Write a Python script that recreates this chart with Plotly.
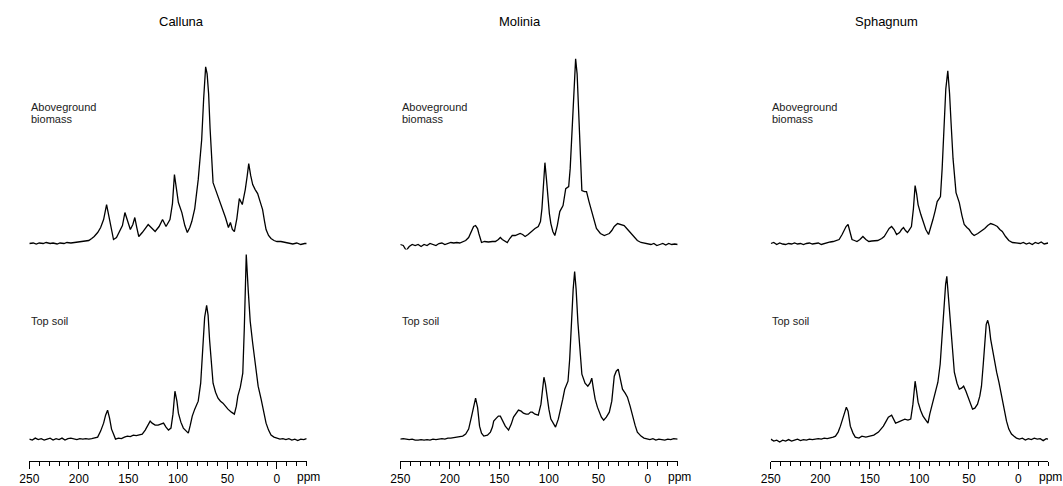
import plotly.graph_objects as go

# ---------------- data (ppm, relative intensity) ----------------
columns = ["Calluna", "Molinia", "Sphagnum"]
row_labels = [["Aboveground", "biomass"], ["Top soil"]]
tick_values = [250, 200, 150, 100, 50, 0]
tick_text = ["250", "200", "150", "100", "50", "0"]

calluna_above = [
    (250, 0), (246, 0.5), (243, -0.5), (240, 0.5), (236, 0), (233, 1), (229, 0), (226, 0.5),
    (222, -0.5), (219, 0.5), (215, 0), (212, 1), (208, 0.5), (204, 1), (200, 1), (197, 1.5),
    (193, 2), (190, 3), (187, 5), (184.5, 7), (181, 11), (178, 16), (175, 24), (172, 39),
    (169, 24), (165, 4), (162, 6), (159.5, 11), (156, 18), (153.5, 31), (151, 22), (148, 14),
    (145.5, 19), (143.5, 26), (141.5, 16), (139.5, 7), (136, 11), (133, 15), (130, 19), (127, 16),
    (123, 12), (119, 17), (115.5, 24), (112, 17), (108, 24), (105.5, 40), (103.5, 69), (101.5, 55),
    (99.5, 41), (96, 31), (93, 18), (90.5, 11), (88, 16), (86, 22), (83, 35), (79.5, 64),
    (76, 104), (74, 145), (72, 177), (70.5, 170), (69, 150), (67.5, 115), (66, 84), (64.5, 61),
    (62, 54), (59.5, 47), (57, 40), (54.5, 34), (52, 26), (49, 16), (47, 21), (45, 14),
    (43, 12), (40.5, 25), (38, 45), (35, 39), (32, 54), (30, 68), (28.5, 80), (26.5, 68),
    (24.5, 59), (22, 54), (19.5, 50), (17, 42), (14.5, 34), (12.5, 22), (11, 14), (8.5, 8),
    (6, 5), (3, 3), (0, 2), (-4, 2), (-8, 1), (-12, 0), (-16, -0.5), (-20, 0.5),
    (-24, -1), (-28, 0), (-30, 0),
]

calluna_soil = [
    (250, 0), (247, -1), (244, 1), (241, -0.5), (238, 0.5), (235, -1), (232, 0), (229, 1),
    (226, -1), (223, 0.5), (220, -0.5), (217, 1), (214, -1), (211, 0.5), (208, 1), (205, 0),
    (202, -0.5), (199, 0.5), (196, 0), (193, 0.5), (190, 0), (187, 0.5), (184, 1), (181, 2),
    (178, 8), (175, 16), (173, 24), (171, 29), (169, 21), (167, 10), (165, 5), (163, 0),
    (160, 1), (157, 0.5), (154, 2), (151, 3), (148, 2.5), (145, 4), (142, 3.5), (139, 4),
    (136, 5), (133, 9), (130, 15), (128, 18), (126, 16), (123, 14), (120, 14), (117, 15),
    (114.5, 16), (112, 12), (109.5, 9), (107, 11), (105, 25), (103, 48), (101, 38), (99.5, 26),
    (97, 17), (94.5, 11), (92, 8), (89.5, 6), (87.5, 14), (85.5, 23), (83, 30), (79.5, 38),
    (77, 56), (74.5, 99), (73, 122), (71, 134), (69.5, 124), (68, 99), (66, 72), (64.5, 56),
    (62, 47), (59.5, 41), (57, 38), (54.5, 36), (52, 33), (49.5, 30), (46, 27), (43, 25),
    (41, 33), (39.5, 43), (37, 52), (34.5, 66), (33, 110), (31, 185), (29, 149), (27, 118),
    (24.5, 96), (22, 75), (19, 53), (16, 40), (13.5, 26), (11, 16), (8.5, 9), (6, 4),
    (3, 2), (0, 1), (-3, 0), (-6, 0.5), (-9, -0.5), (-12, 0.5), (-15, -1), (-18, 0),
    (-21, -1.5), (-24, 0), (-27, -0.5), (-30, 0.5),
]

molinia_above = [
    (250, -1), (247, -2), (244, -7), (241, -3), (238, -1), (235, -2), (232, -1), (229, -3),
    (226, -1), (223, -2), (220, 0), (217, -1), (214, -2), (211, 0), (208, 0.5), (205, -1),
    (202, 0), (199, 1), (196, 0.5), (193, 1), (190, 0.5), (187, 2), (184, 3), (181, 6),
    (178, 13), (176, 17), (174, 18), (172, 15), (170.7, 10), (169, 4), (168, 1), (165, 2),
    (161, 1.5), (157, 2), (154, 2), (151, 4), (149, 6), (147, 4), (144, 2), (142, 1),
    (139.5, 5), (137, 8), (134, 8), (131, 9), (129, 10), (126.5, 9), (124, 7), (121, 9),
    (117, 13), (114, 15), (110.7, 17), (108.5, 22), (107, 35), (105.5, 60), (104, 81), (102.5, 65),
    (101, 45), (99.5, 30), (98, 20), (96, 12), (94, 8), (91.5, 18), (89, 32), (87, 36),
    (85.7, 38), (83, 55), (81.5, 56), (80, 57), (78.5, 75), (77, 102), (75, 150), (73, 185),
    (71.5, 170), (70, 135), (68.5, 90), (66.7, 53), (64, 52), (62, 52), (59.5, 42), (57, 32),
    (54.5, 22), (52, 15), (48, 10), (44, 8), (41.5, 9), (39, 10), (36.5, 13), (34, 17),
    (30.7, 20), (27, 19), (24, 18), (20.5, 14), (17, 10), (14, 6), (10.7, 3), (7, 1),
    (4, 0.5), (0.7, 0), (-3, -1), (-6, 0), (-9, -2), (-12, -1), (-15, 0), (-18, -1.5),
    (-21, 0), (-24, -1), (-27, -0.5), (-30, -1),
]

molinia_soil = [
    (250, 0), (247, 0.5), (244, 0), (241, -0.5), (238, 0), (235, -1), (232, -1), (229, -0.5),
    (226, -1), (223, -0.5), (220, -1), (217, 0), (214, -0.5), (211, 0), (208, 0.5), (205, 0),
    (202, 1), (199, 1), (196, 1.5), (193, 1.5), (190.7, 2), (187, 3), (184, 5), (181, 10),
    (178, 23), (176, 34), (174, 41), (172, 32), (170, 13), (168, 6), (165.7, 3), (162, 4),
    (159, 7), (157, 12), (155.7, 18), (153, 21), (151, 23), (149, 23), (147, 19), (144, 13),
    (140.7, 9), (138, 15), (135.7, 22), (133, 26), (130.7, 29), (128, 28), (125.7, 26), (123, 25),
    (120.7, 25), (118.5, 27), (116.7, 27), (114, 25), (110.7, 24), (108, 35), (105, 62), (103.5, 55),
    (101.7, 40), (100, 30), (98, 20), (95.5, 15), (93.3, 12), (90.5, 20), (88, 30), (86, 40),
    (84, 50), (82, 55), (80.7, 58), (79, 80), (77.3, 117), (75.5, 150), (74, 168), (72.5, 150),
    (70.7, 117), (68.5, 85), (66.7, 65), (63.5, 56), (60.7, 53), (58.5, 56), (56.7, 61), (55, 50),
    (53.3, 40), (51, 32), (49, 27), (47, 22), (44.7, 19), (42, 22), (39, 27), (36.5, 38),
    (34, 63), (32, 68), (30, 70), (28, 60), (25.7, 50), (23, 46), (20.7, 42), (18, 33),
    (15.7, 23), (13, 14), (10.7, 7), (7, 3), (4, 1), (1, 0), (-2, -0.5), (-5, 0.5),
    (-8, -1), (-11, 0), (-14, -0.5), (-17, -1), (-20, 0), (-23, -0.5), (-26, 0.5), (-30, 0),
]

sphagnum_above = [
    (250, 0), (247, 1), (244, -1), (241, 0.5), (238, -0.5), (235, -1), (232, 0), (229, -0.5),
    (226, 0.5), (223, -0.5), (220, 0), (217, -1), (214, 0), (211, 0.5), (208, -0.5), (205, 0),
    (202, 0.5), (199, -1), (196, 0), (193, 1), (190, 1.5), (187, 2), (184, 3), (181, 4),
    (178, 9), (176, 14), (174, 17), (172, 19), (170, 12), (168, 4), (165.5, 3), (163, 2),
    (160, 4), (157, 7), (154, 4), (151, 2), (148, 2.5), (145, 3), (142, 3), (138, 5),
    (135.5, 7), (133, 11), (130.5, 15), (128, 17), (125.5, 14), (123, 9), (120, 11), (118, 14),
    (116, 16), (114, 13), (112, 11), (110, 14), (108, 17), (106, 35), (104.3, 58), (102.8, 50),
    (101.3, 39), (98.5, 29), (96.3, 22), (93.5, 14), (90.7, 9), (88.5, 16), (86.3, 24), (84, 33),
    (82, 42), (80, 45), (78.7, 47), (77, 75), (75.3, 121), (73.3, 155), (71.3, 173), (69.5, 150),
    (68, 121), (66, 85), (63, 51), (59.7, 41), (57, 28), (54.7, 19), (52, 16), (49.7, 14),
    (47, 10), (44.7, 8), (41, 10), (38, 12), (34, 15), (31, 18), (28, 20), (25, 19),
    (21.3, 17), (18.8, 14), (16.3, 12), (13, 7), (9.7, 3), (6, 1), (2, 0.5), (-2, 0),
    (-5, 1), (-8, -0.5), (-11, 0.5), (-14, -1), (-17, 1), (-20, 0), (-23, 1.5), (-26, -0.5),
    (-30, 0.5),
]

sphagnum_soil = [
    (250, 0), (247, -2), (244, -1), (241, -3), (238, -1), (235, -2), (232, -0.5), (229, -2),
    (226, -1), (223, 0), (220, -1.5), (217, -0.5), (214, -1), (211, 0), (208, -0.5), (205, 0),
    (202, 0.5), (199, 0), (196, 1), (193, 0.5), (190, 1), (187, 2), (184.7, 3), (182, 7),
    (179.7, 13), (177, 22), (175.5, 28), (173.7, 32), (172, 28), (169.7, 13), (167, 6), (164.7, 2),
    (161, 1), (158, 3), (154, 2), (150, 3), (146, 4), (141.3, 7), (138.5, 10), (136.3, 13),
    (133.5, 18), (131.3, 22), (128, 24), (126, 20), (124, 16), (121.5, 17), (119.7, 18), (117, 19),
    (114.7, 20), (111.5, 19), (108.7, 20), (106.5, 35), (104.3, 58), (102.8, 48), (101.3, 37), (98.8, 29),
    (96.3, 23), (93.5, 19), (91.3, 16), (89.5, 25), (87.3, 33), (84.5, 43), (81.3, 57), (79, 75),
    (77.3, 100), (75, 135), (73.5, 155), (72.3, 163), (70.5, 140), (68.7, 110), (66.5, 85), (64.7, 67),
    (62, 56), (59.7, 50), (57.5, 51), (55.3, 53), (53, 48), (51.3, 43), (48.5, 35), (46.3, 30),
    (44, 31), (41.3, 35), (39, 43), (37.3, 53), (35.5, 75), (34, 100), (32.5, 115), (31, 119),
    (29.5, 113), (28, 100), (26, 88), (24, 77), (22, 67), (19.7, 57), (17, 43), (14.7, 30),
    (12, 18), (9.7, 10), (7, 5), (4.7, 3), (2, 1), (-1, 0), (-4, 1), (-7, -1),
    (-10, 0.5), (-13, -0.5), (-16, 1), (-19, 0), (-22, 0.5), (-25, -1.5), (-28, 0.5), (-30, 0),
]

spectra = {
    "Calluna": (calluna_above, calluna_soil),
    "Molinia": (molinia_above, molinia_soil),
    "Sphagnum": (sphagnum_above, sphagnum_soil),
}

# ---------------- layout geometry (pixels) ----------------
W, H = 1063, 486
panel_left = [19.5, 394.0, 768.0]   # x pixel of 250 ppm in each column
panel_width = 280.0                 # 250 .. -30 ppm
X_RANGE = [250, -30]
title_x_px = [173, 515, 885]

top_dom_px = (30, 250)      # top row: y pixel top/bottom
bot_dom_px = (250, 462)     # bottom row
top_base_px = 244
bot_base_px = 440


def py(p):
    return (H - p) / H


fig = go.Figure()
layout = dict(
    width=W, height=H, margin=dict(l=0, r=0, t=0, b=0),
    paper_bgcolor="white", plot_bgcolor="white", showlegend=False,
    font=dict(family="Liberation Sans, Arial, sans-serif", color="black"),
)
annotations = []

for c, name in enumerate(columns):
    x0 = panel_left[c] / W
    x1 = (panel_left[c] + panel_width) / W
    for r in range(2):
        idx = c * 2 + r + 1
        sfx = "" if idx == 1 else str(idx)
        data = spectra[name][r]
        xs = [p[0] for p in data]
        ys = [p[1] for p in data]
        fig.add_trace(go.Scatter(
            x=xs, y=ys, mode="lines", line=dict(color="black", width=1.3),
            xaxis="x" + sfx, yaxis="y" + sfx, hoverinfo="skip",
        ))
        if r == 0:
            dom = [py(top_dom_px[1]), py(top_dom_px[0])]
            yr = [top_base_px - top_dom_px[1], top_base_px - top_dom_px[0]]
            layout["xaxis" + sfx] = dict(domain=[x0, x1], range=X_RANGE, visible=False,
                                         anchor="y" + sfx)
        else:
            dom = [py(bot_dom_px[1]), py(bot_dom_px[0])]
            yr = [bot_base_px - bot_dom_px[1], bot_base_px - bot_dom_px[0]]
            layout["xaxis" + sfx] = dict(
                domain=[x0, x1], range=X_RANGE, anchor="y" + sfx,
                showline=True, linecolor="black", linewidth=1, showgrid=False, zeroline=False,
                ticks="outside", ticklen=7, tickwidth=1, tickcolor="black",
                tickvals=tick_values, ticktext=tick_text,
                tickfont=dict(size=12, color="black"),
                minor=dict(dtick=10, tick0=0, ticks="outside", ticklen=4, tickwidth=1,
                           tickcolor="black", showgrid=False),
            )
            annotations.append(dict(
                text="ppm", x=(panel_left[c] + 282) / W, xref="paper",
                y=py(478), yref="paper",
                showarrow=False, xanchor="center", yanchor="middle",
                font=dict(size=12, color="black"),
            ))
        layout["yaxis" + sfx] = dict(domain=dom, range=yr, visible=False, anchor="x" + sfx,
                                     fixedrange=True)

    # column title
    annotations.append(dict(
        text=name, x=title_x_px[c] / W, xref="paper",
        y=py(22), yref="paper", showarrow=False, xanchor="center", yanchor="middle",
        font=dict(size=13, color="black"),
    ))
    # row labels
    lx = (panel_left[c] - 0.5) / W
    for k, line in enumerate(row_labels[0]):
        annotations.append(dict(
            text=line, x=lx, xref="paper", y=py(107 + 12.6 * k), yref="paper",
            showarrow=False, xanchor="left", yanchor="middle",
            font=dict(size=11, color="#222222"),
        ))
    annotations.append(dict(
        text=row_labels[1][0], x=lx, xref="paper", y=py(322), yref="paper",
        showarrow=False, xanchor="left", yanchor="middle",
        font=dict(size=11, color="#222222"),
    ))

layout["annotations"] = annotations
fig.update_layout(**layout)
fig.write_html(
    "out.html",
    config={"displayModeBar": False},
    post_script="document.body.style.margin='0';document.body.style.padding='0';",
)
